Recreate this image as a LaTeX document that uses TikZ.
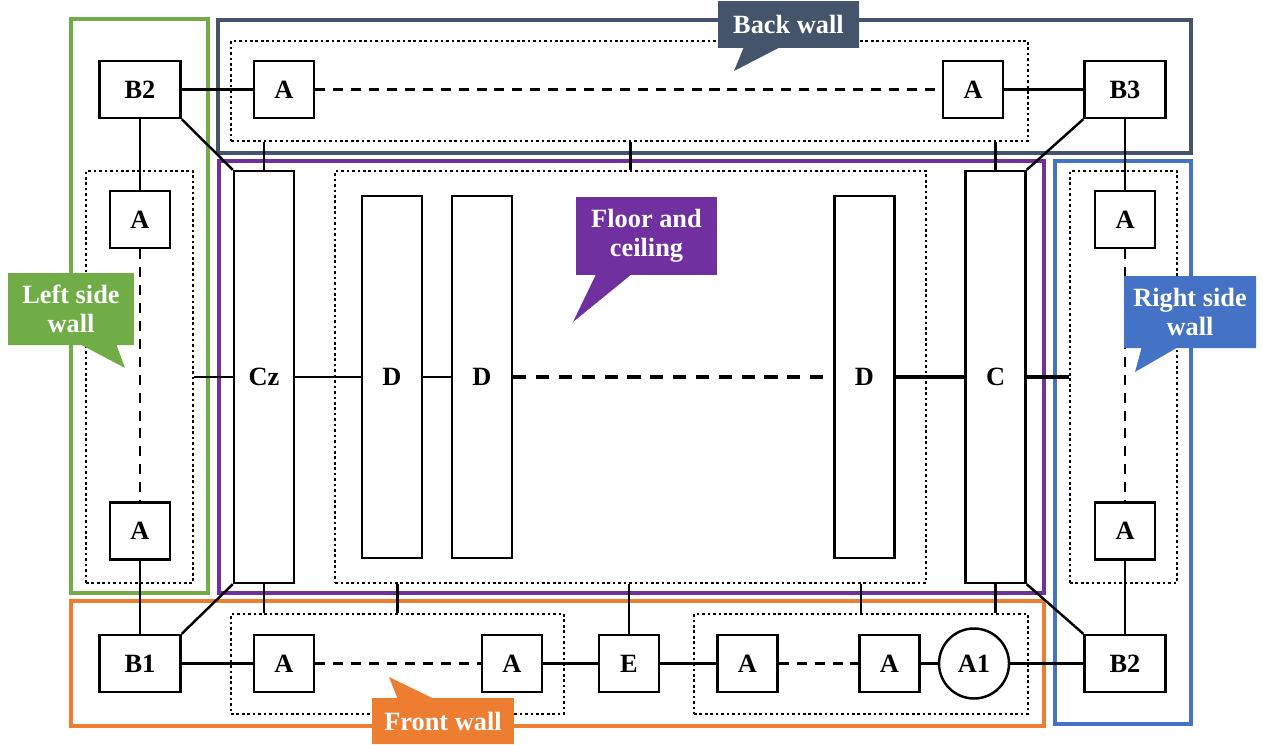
\documentclass[tikz,border=0pt]{standalone}
\usepackage{fontspec}
\setmainfont{Liberation Serif}
\usepackage{tikz}
\usetikzlibrary{shapes.callouts}

\definecolor{wallgreen}{HTML}{70AD47}
\definecolor{wallslate}{HTML}{44546A}
\definecolor{wallpurple}{HTML}{7030A0}
\definecolor{wallblue}{HTML}{4472C4}
\definecolor{wallorange}{HTML}{ED7D31}

\begin{document}
\begin{tikzpicture}[x=0.02cm,y=-0.02cm,
    box/.style={draw,fill=white,line width=1.4pt,minimum width=1.2cm,minimum height=1.14cm,inner sep=0pt,font=\bfseries\fontsize{15}{16.5}\selectfont},
    bbox/.style={box,minimum width=1.62cm},
    col/.style={box,minimum height=8.24cm},
    dcol/.style={box,minimum height=7.24cm},
    grp/.style={draw,line width=1.5pt,dash pattern=on 1.5pt off 1.6pt,inner sep=0pt,minimum height=#1},
    link/.style={line width=1.4pt},
    dlink/.style={link,dash pattern=on 5.7pt off 4.5pt},
    blink/.style={line width=2.1pt},
    bdlink/.style={blink,dash pattern=on 7.5pt off 5.5pt},
    wall/.style={line width=2pt},
    tag/.style={rectangle callout,fill=#1,text=white,align=center,inner sep=0pt,
        callout pointer width=0.7cm,font=\bfseries\fontsize{15}{16.5}\selectfont}]
    \useasboundingbox (0,0) rectangle (1263,744);

    % Walls
    \draw[wall,wallgreen] (71,19) rectangle (208,593);
    \draw[wall,wallslate] (218,20) rectangle (1191,153);
    \draw[wall,wallpurple] (219,161) rectangle (1044,593);
    \draw[wall,wallblue] (1055,161) rectangle (1191,724);
    \draw[wall,wallorange] (71,601) rectangle (1044,726);

    % Groups
    \node[grp=2cm,minimum width=15.94cm] (topgrp) at (629.5,91) {};
    \node[grp=8.24cm,minimum width=2.14cm] (leftgrp) at (139.5,377) {};
    \node[grp=8.24cm,minimum width=11.82cm] (floorgrp) at (630.5,377) {};
    \node[grp=8.24cm,minimum width=2.14cm] (rightgrp) at (1123.5,377) {};
    \node[grp=2cm,minimum width=6.66cm] (flgrp) at (397.5,664) {};
    \node[grp=2cm,minimum width=6.68cm] (frgrp) at (861,664) {};

    % Back wall row
    \node[bbox] (b2t) at (140,89.5) {B2};
    \node[box] (atl) at (284,89.5) {A};
    \node[box] (atr) at (973,89.5) {A};
    \node[bbox] (b3) at (1125,89.5) {B3};

    % Side walls
    \node[box] (al1) at (140,219.5) {A};
    \node[box] (al2) at (140,531) {A};
    \node[box] (ar1) at (1125,219.5) {A};
    \node[box] (ar2) at (1125,531) {A};

    % Floor and ceiling
    \node[col] (cz) at (264,377) {Cz};
    \node[dcol] (d1) at (392,377) {D};
    \node[dcol] (d2) at (482,377) {D};
    \node[dcol] (d3) at (864.5,377) {D};
    \node[col] (c) at (995.5,377) {C};

    % Front wall row
    \node[bbox] (b1) at (140,663.5) {B1};
    \node[box] (af1) at (284,663.5) {A};
    \node[box] (af2) at (512,663.5) {A};
    \node[box] (e) at (629,663.5) {E};
    \node[box] (af3) at (747.5,663.5) {A};
    \node[box] (af4) at (889.5,663.5) {A};
    \node[box,circle,minimum size=1.4cm] (a1) at (974,663.5) {A1};
    \node[bbox] (b2b) at (1125,663.5) {B2};

    % Rows
    \draw[link] (b2t) -- (atl);
    \draw[dlink] (atl) -- (atr);
    \draw[link] (atr) -- (b3);
    \draw[link] (b1) -- (af1);
    \draw[dlink] (af1) -- (af2);
    \draw[link] (af2) -- (e) -- (af3);
    \draw[dlink] (af3) -- (af4);
    \draw[link] (af4) -- (a1) -- (b2b);
    \draw[link] (leftgrp.east) -- (cz) -- (d1) -- (d2);
    \draw[bdlink] (d2) -- (d3);
    \draw[blink] (d3) -- (c) -- (rightgrp.west);

    % Columns
    \draw[link] (b2t) -- (al1);
    \draw[dlink] (al1) -- (al2);
    \draw[link] (al2) -- (b1);
    \draw[link] (b3) -- (ar1);
    \draw[dlink] (ar1) -- (ar2);
    \draw[link] (ar2) -- (b2b);

    % Corners
    \draw[link] (b2t.south east) -- (cz.north west);
    \draw[link] (b3.south west) -- (c.north east);
    \draw[link] (b1.north east) -- (cz.south west);
    \draw[link] (b2b.north west) -- (c.south east);

    % Group ties
    \draw[link] (cz.north) -- (cz.north |- topgrp.south);
    \draw[link] (c.north) -- (c.north |- topgrp.south);
    \draw[link] (floorgrp.north) -- (floorgrp.north |- topgrp.south);
    \draw[link] (cz.south) -- (cz.south |- flgrp.north);
    \draw[link] (c.south) -- (c.south |- frgrp.north);
    \draw[link] (flgrp.north) -- (flgrp.north |- floorgrp.south);
    \draw[link] (frgrp.north) -- (frgrp.north |- floorgrp.south);
    \draw[link] (e.north) -- (e.north |- floorgrp.south);

    % Labels
    \node[tag=wallslate,minimum width=2.82cm,minimum height=0.94cm,
        callout absolute pointer={(734,71)}] (backtag) at (788.5,24.5) {Back wall};
    \node[tag=wallpurple,minimum width=2.82cm,minimum height=1.56cm,
        callout absolute pointer={(573,322)}] (floortag) at (646.5,236) {Floor and\\ceiling};
    \node[tag=wallgreen,minimum width=2.52cm,minimum height=1.44cm,
        callout absolute pointer={(125,368)}] (lefttag) at (71,309) {Left side\\wall};
    \node[tag=wallblue,minimum width=2.64cm,minimum height=1.44cm,
        callout absolute pointer={(1135,372)}] (righttag) at (1190,312) {Right side\\wall};
    \node[tag=wallorange,minimum width=2.84cm,minimum height=0.92cm,
        callout absolute pointer={(389,677)}] (fronttag) at (443,721) {Front wall};
\end{tikzpicture}
\end{document}
